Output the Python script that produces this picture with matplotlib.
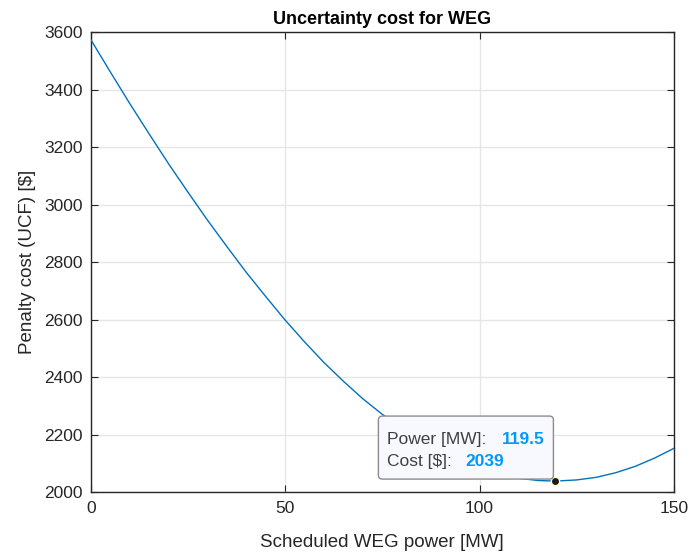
"""Uncertainty cost curve for WEG, MATLAB-style with a data tip."""

import matplotlib
matplotlib.use("Agg")
import matplotlib.pyplot as plt
from matplotlib.patches import FancyBboxPatch
from matplotlib.transforms import IdentityTransform

power = [0, 5, 10, 15, 20, 25, 30, 35, 40, 45, 50, 55, 60, 65, 70, 75,
         80, 85, 90, 95, 100, 105, 110, 115, 119.5, 125, 130, 135, 140, 145, 150]
cost = [3575, 3463, 3353, 3247, 3143, 3044, 2947, 2855, 2765, 2681, 2599,
        2523, 2451, 2386, 2325, 2271, 2222, 2179, 2140, 2108, 2082, 2063,
        2049, 2041, 2039, 2043, 2052, 2068, 2090, 2119, 2153]
tip_power = 119.5
tip_cost = 2039
xticks = [0, 50, 100, 150]
yticks = [2000, 2200, 2400, 2600, 2800, 3000, 3200, 3400, 3600]

plt.rcParams["font.family"] = ["Liberation Sans", "DejaVu Sans"]
dark = "#262626"

fig = plt.figure(figsize=(6.92, 5.54), dpi=100)
ax = fig.add_axes([0.1311, 0.1114, 0.8429, 0.8303])

ax.plot(power, cost, color="#0072BD", lw=1.0, zorder=3)
ax.set_xlim(0, 150)
ax.set_ylim(2000, 3600)
ax.set_xticks(xticks)
ax.set_yticks(yticks)
ax.grid(True, color="#e6e6e6", lw=1.0)
ax.set_axisbelow(True)
ax.tick_params(direction="in", length=5, width=0.8, colors=dark,
               labelsize=12.5, top=True, right=True, pad=6)
for s in ax.spines.values():
    s.set_color(dark)
    s.set_linewidth(1.0)

ax.set_title("Uncertainty cost for WEG", fontsize=13, fontweight="bold",
             color="black", pad=6)
ax.set_xlabel("Scheduled WEG power [MW]", fontsize=13.5, color=dark, labelpad=13)
ax.set_ylabel("Penalty cost (UCF) [$]", fontsize=13.5, color=dark, labelpad=6)

# data tip
ax.plot([tip_power], [tip_cost], "o", ms=6, color="#1a1a1a",
        mec="#ffffcc", mew=1.0, zorder=6)
px, py = ax.transData.transform((tip_power, tip_cost))
box = FancyBboxPatch((px - 177, py + 2), 175, 63,
                     boxstyle="round,pad=0,rounding_size=4",
                     transform=IdentityTransform(), fc="#f8f8ff",
                     ec="#8c8c8c", lw=1.0, zorder=5)
fig.add_artist(box)
label_kw = dict(transform=IdentityTransform(), fontsize=12.5, color="#404040",
                va="baseline", zorder=7)
value_kw = dict(transform=IdentityTransform(), fontsize=12.5, color="#0099ff",
                fontweight="bold", va="baseline", zorder=7)
fig.text(px - 168, py + 37, "Power [MW]:", **label_kw)
fig.text(px - 54, py + 37, f"{tip_power}", **value_kw)
fig.text(px - 168, py + 15, "Cost [$]:", **label_kw)
fig.text(px - 90, py + 15, f"{tip_cost}", **value_kw)

fig.savefig("out.png", dpi=100)
plt.close(fig)
